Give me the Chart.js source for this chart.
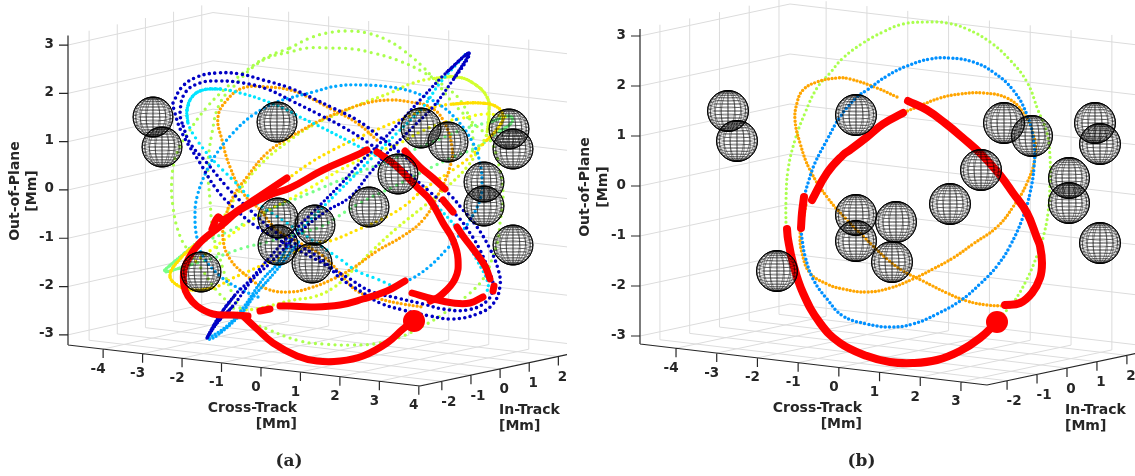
<!DOCTYPE html>
<html>
<head>
<meta charset="utf-8">
<title>Orbits</title>
<script src="https://cdn.jsdelivr.net/npm/chart.js@4"></script>
<style>
  html, body { margin: 0; padding: 0; background: #fff; }
  canvas { position: absolute; top: 0; }
</style>
</head>
<body>
<canvas id="panelA" width="567" height="476" style="left:0"></canvas>
<canvas id="panelB" width="568" height="476" style="left:567px"></canvas>
<script>
// tick labels of the three axes
const outOfPlaneTicks = [-3, -2, -1, 0, 1, 2, 3];
const inTrackTicks = [-2, -1, 0, 1, 2];
const crossTicksA = [-4, -3, -2, -1, 0, 1, 2, 3, 4];
const crossTicksB = [-4, -3, -2, -1, 0, 1, 2, 3];

// all orbits as [horizontal, vertical] in the view plane
// panel (a)
const aNavyOuter = [[-2.2,1.74],[-1.975,2.06],[-1.6,2.26],[-1.1,2.34],[-.525,2.32],[.05,2.2],[.725,2.04],[1.225,1.86],[1.8,1.64],[2.4,1.4],[2.975,1.06],[3.85,.5],[4.725,-.1],[5.05,-.4],[5.4,-.74],[5.725,-1.18],[5.925,-1.58],[5.975,-1.92],[5.8,-2.28],[5.4,-2.48],[4.8,-2.58],[4.225,-2.52],[3.55,-2.4],[2.975,-2.26],[2.475,-2.02],[1.975,-1.76],[1.65,-1.52],[.775,-1.14],[-.1,-.74],[-.7,-.34],[-1.1,0],[-1.525,.54],[-1.975,1.14],[-2.175,1.6],[-2.2,1.74]];
const aNavyInner = [[-1.975,1.34],[-2.025,1.54],[-1.9,1.94],[-1.525,2.14],[-1.025,2.18],[-.45,2.14],[.15,2.02],[.725,1.8],[1.475,1.5],[2.05,1.26],[2.65,.96],[3.35,.54],[4.225,-.04],[4.925,-.54],[5.225,-.86],[5.475,-1.2],[5.675,-1.58],[5.8,-1.92],[5.65,-2.22],[5.15,-2.4],[4.55,-2.38],[4.05,-2.28],[3.4,-2.16],[2.725,-2.02],[2.225,-1.78],[1.8,-1.58],[1.4,-1.32],[.4,-.86],[-.275,-.4],[-.85,.06],[-1.35,.54],[-1.775,.94],[-1.975,1.34]];
const aNavyThin = [[-1.35,-2.96],[-1.1,-2.66],[-.7,-2.32],[-.2,-1.78],[.15,-1.52],[.475,-1.26],[.975,-.84],[1.6,-.44],[2.225,-.14],[2.725,.34],[3.3,.86],[3.8,1.26],[4.3,1.66],[4.8,2.2],[5.15,2.6],[5.2,2.74],[4.65,2.36],[4.05,1.86],[3.475,1.36],[2.975,.94],[2.475,.54],[1.975,.1],[1.225,-.5],[.725,-.9],[.225,-1.34],[-.275,-1.8],[-.65,-2.1],[-1.025,-2.5],[-1.35,-2.96]];
const aCyanTop = [[-1.85,1.6],[-1.725,1.86],[-1.45,2],[-1.025,2.02],[-.525,1.94],[.05,1.8],[.65,1.6],[.975,1.46],[1.55,1.24],[2.225,.96],[2.975,.64],[3.85,.1],[4.725,-.6],[5.1,-1],[5.425,-1.44],[5.675,-1.86],[5.65,-2.04]];
const aCyanBack = [[-1.85,1.6],[-1.825,1.34],[-1.6,1],[-1.2,.6],[-.7,.2],[-.2,-.2],[.65,-.66],[1.975,-1.38],[2.4,-1.62],[2.9,-1.78],[3.4,-1.96]];
const aCyanThin = [[5.1,2.7],[4.475,2.14],[4.05,1.66],[3.4,1.14],[2.8,.66],[1.9,-.06],[1.225,-.6],[.725,-1]];
const aSkyThin = [[.725,-1.06],[.4,-1.48],[.05,-1.78],[-.45,-2.36],[-.85,-2.72],[-1.325,-2.98],[-1.15,-2.94],[-.525,-2.5],[-.15,-2.1],[.35,-1.64],[.975,-1]];
const aSky = [[-.075,-2.14],[-.525,-1.98],[-1.025,-1.72],[-1.45,-1.32],[-1.6,-.96],[-1.65,-.54],[-1.6,-.14],[-1.35,.4],[-1.1,.74],[-.7,1.14],[-.2,1.5],[.4,1.76],[.725,1.84],[1.3,1.96],[1.9,2.08],[2.55,2.1],[3.225,2.06],[3.8,1.96],[4.4,1.74],[4.9,1.4],[5.3,.94],[5.475,.54],[5.525,.14],[5.475,-.2],[5.225,-.6],[4.9,-.96],[4.65,-1.18],[4.225,-1.52],[3.8,-1.76],[3.55,-1.84]];
const aOrangeOpen = [[2.9,1],[2.4,1.34],[1.8,1.6],[1.225,1.84],[.725,2],[.15,2.06],[-.45,2.04],[-.85,1.8],[-1.075,1.46],[-.975,1],[-.775,.46],[-.45,-.06],[-.025,-.4],[.4,-.8],[.975,-1.06],[1.55,-1.32],[1.975,-1.66],[2.4,-2.02],[2.975,-2.18],[3.55,-2.28],[4.05,-2.34]];
const aOrangeLoop = [[.725,1.06],[.15,.74],[-.35,.26],[-.7,-.14],[-.9,-.6],[-.95,-.98],[-.775,-1.38],[-.35,-1.72],[.15,-1.98],[.725,-2.04],[1.225,-1.96],[1.8,-1.78],[2.3,-1.56],[2.9,-1.22],[3.55,-.92],[4.05,-.6],[4.4,-.14],[4.725,.46],[4.775,.86],[4.55,1.4],[4.225,1.66],[3.725,1.76],[3.225,1.8],[2.65,1.74],[1.975,1.56],[1.4,1.36],[.725,1.06]];
const aYellow = [[-1.6,-1.06],[-2.025,-1.38],[-2.275,-1.7],[-2.1,-1.9],[-1.7,-2],[-1.2,-1.96],[-.7,-1.76],[-.35,-1.64],[.15,-1.46],[.8,-1.26],[1.4,-1.06],[1.8,-1],[2.4,-.8],[2.975,-.6],[3.55,-.34],[4.05,0],[4.9,.46],[5.225,.66],[5.65,1],[5.925,1.24],[6.05,1.46],[5.9,1.66],[5.475,1.74],[4.8,1.72],[4.225,1.64],[3.65,1.46],[3.05,1.26],[2.475,1.06],[1.8,.8],[1.225,.54],[.725,.26],[-.025,-.14],[-.9,-.64],[-1.6,-1.06]];
const aYellowRow = [[6.1,1.46],[5.65,1.52],[5.05,1.44],[4.6,1.36],[3.975,1.16],[3.475,.94],[2.725,.7],[1.975,.4],[1.225,.04],[.725,-.18],[.1,-.44],[-.525,-.76],[-1.15,-1.14],[-1.65,-1.44]];
const aYellowGreen = [[-.9,-.5],[-.525,0],[-.025,.5],[.725,1],[1.4,1.34],[1.975,1.54],[2.55,1.74],[3.225,1.94],[3.8,2.14],[4.4,2.24],[4.9,2.26],[5.3,2.14],[5.65,1.86],[5.7,1.54],[5.65,1.14],[5.475,.86],[5.15,.46],[4.65,.06],[4.05,-.34],[3.4,-.76],[2.8,-1.2],[2.3,-1.6],[1.8,-1.96],[1.3,-2.14],[.8,-2.2],[.3,-2.3],[-.15,-2.38],[-.525,-2.4]];
const aLimeOuter = [[.725,2.84],[1.225,3.04],[1.65,3.14],[2.15,3.18],[2.65,3.14],[3.15,3],[3.55,2.8],[4.05,2.46],[4.4,2.14],[4.8,1.74],[5.275,1.36],[5.725,1],[5.975,.4],[6.05,-.14],[5.975,-.66],[5.925,-1],[5.8,-1.32],[5.6,-1.72],[5.225,-2.06],[4.475,-2.52],[4.05,-2.72],[3.55,-2.92],[2.975,-3.06],[2.3,-3.1],[1.55,-3.08],[.975,-3.02],[.15,-2.78],[-.45,-2.56],[-.775,-2.28],[-1.1,-2.02],[-1.45,-1.62],[-1.775,-1.26],[-2.025,-.92],[-2.2,-.34],[-2.225,.26],[-2.1,.74],[-1.775,1.2],[-1.35,1.66],[-.85,2.06],[-.35,2.4],[.15,2.66],[.725,2.84]];
const aLimeInner = [[-.525,-2.36],[-.7,-2.1],[-.9,-1.7],[-1.05,-1.3],[-1.2,-.86],[-1.275,-.2],[-1.325,.46],[-1.225,1.14],[-1.025,1.74],[-.6,2.14],[-.2,2.46],[.225,2.66],[.725,2.76],[1.15,2.84],[1.725,2.84],[2.3,2.82],[2.8,2.74],[3.4,2.6],[4.05,2.36],[4.65,2.04],[4.975,1.8],[5.225,1.4],[5.3,1],[5.275,.66]];
const aGreen = [[-2.4,-1.6],[-2.025,-1.34],[-1.6,-1.06],[-1.275,-.98],[-.85,-.84],[-.35,-.64],[.225,-.4],[.8,-.2],[1.225,-.06],[2.225,.28],[3.225,.6],[4.225,.94],[5.225,1.26],[5.725,1.36],[6.225,1.48],[6.275,1.36],[5.9,1.14],[5.4,.86],[4.8,.66],[4.225,.44],[3.35,.08],[2.475,-.26],[1.475,-.74],[1.05,-.84],[.15,-1.04],[-.45,-1.16],[-.95,-1.3],[-1.525,-1.44],[-2.025,-1.56],[-2.4,-1.64]];
// stretches near the turning points, where the dots crowd together
const aGreenTipLeft = [[-1.6,-1.06],[-2.025,-1.34],[-2.4,-1.6],[-2.4,-1.64],[-2.025,-1.56],[-1.7,-1.48]];
const aGreenTipRight = [[5.725,1.36],[6.225,1.48],[6.275,1.36],[5.9,1.14]];
const aYellowTipLeft = [[-1.6,-1.06],[-2.025,-1.38],[-2.275,-1.7],[-2.1,-1.9],[-1.7,-2],[-1.2,-1.96]];
const aYellowTipRight = [[4.8,1.72],[5.475,1.74],[5.9,1.66],[6.05,1.46],[5.925,1.24],[5.65,1]];
const aYellowGreenArc = [[4.4,2.24],[4.9,2.26],[5.3,2.14],[5.65,1.86],[5.7,1.54],[5.65,1.14]];
const aCyanTurn = [[-1.825,1.34],[-1.85,1.6],[-1.725,1.86],[-1.45,2],[-1.025,2.02]];
const aNavyTipTop = [[4.65,2.36],[5.2,2.74],[4.8,2.2]];
const aNavyTipBottom = [[-.65,-2.1],[-1.025,-2.5],[-1.35,-2.96],[-1.1,-2.66],[-.7,-2.32]];
const aRedBottom = [[3.825,-2.62],[3.55,-2.78],[3.15,-3.06],[2.55,-3.32],[1.975,-3.42],[1.4,-3.42],[.9,-3.32],[.3,-3.06],[-.1,-2.78],[-.45,-2.52]];
const aRedLeft = [[-.325,-2.52],[-.7,-2.5],[-1.2,-2.48],[-1.6,-2.32],[-1.825,-2.12],[-1.925,-1.92],[-1.925,-1.6],[-1.775,-1.32],[-1.6,-1.12],[-1.4,-.96],[-.975,-.7],[-.525,-.4],[.225,-.1],[.725,.04],[1.55,.4],[2.4,.7],[2.65,.8]];
const aRedNotch = [[-1.225,-.78],[-1.075,-.54],[-.95,-.6],[-.525,-.38],[-.025,-.12],[.65,.24]];
const aRedRight = [[2.9,.76],[3.35,.5],[3.725,.2],[3.925,.04],[4.225,-.2],[4.55,-.66],[4.8,-1],[4.925,-1.38],[4.85,-1.78],[4.475,-2.12],[4.225,-2.22]];
const aRedShort1 = [[3.6,.78],[3.975,.46],[4.3,.24],[4.6,.02]];
const aRedShort2 = [[4.55,-.2],[4.8,-.44]];
const aRedShort3 = [[4.9,-.74],[5.05,-.92],[5.3,-1.18],[5.6,-1.52],[5.725,-1.78]];
const aRedShort4 = [[5.825,-1.92],[5.8,-2.02]];
const aRedLow = [[5.55,-2.14],[5.225,-2.26],[4.8,-2.26],[4.3,-2.18],[3.775,-2.06]];
const aRedLong = [[3.6,-1.82],[3.15,-2.02],[2.55,-2.18],[1.975,-2.3],[1.3,-2.34],[.725,-2.32],[.475,-2.32]];
const aRedTail = [[.225,-2.38],[-.025,-2.42]];
const aEndPoint = [[3.825,-2.62]];
const aSpheres = [[-2.7,1.46],[-2.475,.86],[.4,1.36],[4,1.24],[4.675,.96],[6.2,1.22],[6.3,.82],[3.425,.32],[5.575,.16],[5.575,-.32],[2.7,-.34],[.425,-.56],[.425,-1.1],[1.35,-.7],[1.275,-1.46],[6.3,-1.1],[-1.5,-1.64]];

// panel (b)
const bLime = [[4.1,-2.56],[4.35,-2.34],[4.7,-1.86],[4.975,-1.34],[5.1,-1.04],[5.225,-.54],[5.275,.06],[5.275,.58],[5.2,1.06],[4.975,1.52],[4.7,2.08],[4.275,2.52],[3.775,2.88],[3.2,3.14],[2.7,3.26],[2.2,3.28],[1.6,3.24],[1.1,3.08],[.6,2.86],[.1,2.56],[-.225,2.26],[-.55,1.96],[-.85,1.46],[-1.1,.92],[-1.275,.32],[-1.325,-.28],[-1.325,-.82]];
const bSky = [[-.95,-.88],[-.925,-1.06],[-.85,-1.4],[-.65,-1.86],[-.3,-2.26],[.1,-2.6],[.7,-2.76],[1.275,-2.82],[1.85,-2.76],[2.45,-2.56],[3.025,-2.3],[3.525,-1.96],[3.95,-1.6],[4.275,-1.2],[4.6,-.62],[4.775,-.14],[4.875,.38],[4.875,.86],[4.7,1.42],[4.35,1.92],[3.85,2.28],[3.35,2.48],[2.775,2.56],[2.275,2.54],[1.7,2.4],[1.2,2.2],[.7,1.92],[.45,1.78],[.025,1.38],[-.3,.92],[-.6,.46],[-.775,.06],[-.875,-.22]];
const bOrangeLow = [[-.825,-.38],[-.925,-.78],[-.975,-1],[-.925,-1.34],[-.725,-1.74],[-.3,-1.96],[.1,-2.06],[.7,-2.12],[1.275,-2.04],[1.85,-1.86],[2.35,-1.66],[2.85,-1.44],[3.35,-1.16],[3.95,-.82],[4.35,-.42],[4.7,.06],[4.9,.58],[4.85,1.06],[4.6,1.48],[4.2,1.76],[3.6,1.86],[3.025,1.84],[2.525,1.76],[1.95,1.58],[1.65,1.48]];
const bOrangeTop = [[1.45,1.78],[.95,1.96],[.275,2.14],[-.05,2.16],[-.55,2.08],[-.9,1.92],[-1.05,1.66],[-1.1,1.32],[-.975,.86],[-.725,.32],[-.3,-.22],[.2,-.68],[.6,-1],[.85,-1.2],[1.2,-1.46],[1.6,-1.7],[2.1,-1.9],[2.7,-2.14],[3.2,-2.3],[3.7,-2.38],[4.15,-2.4]];
const bRedBottom = [[-1.3,-.86],[-1.275,-1.06],[-1.15,-1.54],[-.9,-2.14],[-.475,-2.74],[.025,-3.14],[.7,-3.4],[1.275,-3.52],[1.85,-3.54],[2.45,-3.48],[3.025,-3.3],[3.525,-3.04],[3.95,-2.72]];
const bRedRight = [[4.15,-2.38],[4.525,-2.34],[4.825,-2.14],[5.025,-1.84],[5.075,-1.54],[5.025,-1.2],[4.95,-1.04],[4.7,-.54],[4.35,-.14],[4.025,.22],[3.575,.62],[3.1,.96],[2.65,1.26],[2.2,1.52],[1.725,1.7]];
const bRedTop = [[1.6,1.46],[1.1,1.24],[.7,.98],[.275,.72],[.1,.62],[-.3,.26],[-.675,-.28]];
const bRedShort = [[-.875,-.22],[-.925,-.54],[-.95,-.84]];
const bEndPoint = [[3.95,-2.72]];
const bSpheres = [[-2.775,1.5],[-2.55,.9],[.425,1.42],[.425,-.58],[.425,-1.1],[4.125,1.26],[4.825,1],[6.4,1.26],[6.525,.84],[3.55,.32],[5.75,.16],[5.75,-.34],[2.775,-.36],[1.425,-.72],[6.525,-1.14],[-1.55,-1.7],[1.325,-1.52]];

const textColor = '#262626';
const gridColor = '#dcdcdc';
const pxU = 0.025, pxV = 0.02; // view units per pixel

function toXY(pts) { return pts.map(p => ({ x: p[0], y: p[1] })); }

function orbit(pts, color, width, gap) {
    return {
        data: toXY(pts), showLine: true, pointRadius: 0, borderColor: color, borderWidth: width,
        borderDash: gap ? [0, gap] : [], borderCapStyle: 'round', borderJoinStyle: 'round',
        tension: 0.42, order: gap ? 5 : 3
    };
}

// wireframe ball used as point style for the spheres
function wireBall(r) {
    const c = document.createElement('canvas');
    c.width = c.height = 2 * Math.ceil(r) + 4;
    const g = c.getContext('2d');
    const m = c.width / 2, el = 0.2, az = 0.16, rad = Math.PI / 180;
    const put = (lat, lon) => {
        const X = Math.cos(lat) * Math.cos(lon + az), Y = Math.cos(lat) * Math.sin(lon + az), Z = Math.sin(lat);
        return [m + r * X, m - r * (Z * Math.cos(el) - Y * Math.sin(el))];
    };
    g.strokeStyle = 'rgba(0,0,0,0.75)';
    g.lineWidth = 0.55;
    for (let k = -8; k <= 8; k++) {
        g.beginPath();
        for (let l = 0; l <= 360; l += 10) {
            const q = put(k * 10 * rad, l * rad);
            l ? g.lineTo(q[0], q[1]) : g.moveTo(q[0], q[1]);
        }
        g.stroke();
    }
    for (let l = 0; l < 360; l += 20) {
        g.beginPath();
        for (let k = -90; k <= 90; k += 10) {
            const q = put(k * rad, l * rad);
            k === -90 ? g.moveTo(q[0], q[1]) : g.lineTo(q[0], q[1]);
        }
        g.stroke();
    }
    g.lineWidth = 1;
    g.strokeStyle = '#000';
    g.beginPath();
    g.arc(m, m, r, 0, 2 * Math.PI);
    g.stroke();
    return c;
}

// box of the 3D axes: floor corners in view units, ranges of each axis
function makeProject(box) {
    return function (c, i, z) {
        const s = (c - box.cross[0]) / (box.cross[1] - box.cross[0]);
        const t = (i - box.inTrack[0]) / (box.inTrack[1] - box.inTrack[0]);
        const front = [box.A[0] + (box.B[0] - box.A[0]) * s, box.A[1] + (box.B[1] - box.A[1]) * s];
        const back = [box.D[0] + (box.C[0] - box.D[0]) * s, box.D[1] + (box.C[1] - box.D[1]) * s];
        return {
            x: front[0] + (back[0] - front[0]) * t,
            y: front[1] + (back[1] - front[1]) * t + (z - box.out[0]) * box.vPerZ
        };
    };
}

function boxDatasets(box, crossTicks) {
    const P = makeProject(box);
    const [c0, c1] = box.cross, [i0, i1] = box.inTrack, [z0, z1] = box.out;
    const grid = [], axes = [];
    const seg = (arr, a, b) => { arr.push(a, b, { x: null, y: null }); };
    crossTicks.forEach(c => {
        seg(grid, P(c, i0, z0), P(c, i1, z0));
        seg(grid, P(c, i1, z0), P(c, i1, z1));
    });
    inTrackTicks.forEach(i => {
        seg(grid, P(c0, i, z0), P(c1, i, z0));
        seg(grid, P(c0, i, z0), P(c0, i, z1));
    });
    outOfPlaneTicks.forEach(z => {
        seg(grid, P(c0, i0, z), P(c0, i1, z));
        seg(grid, P(c0, i1, z), P(c1, i1, z));
    });
    seg(axes, P(c0, i0, z0), P(c0, i0, z1));
    seg(axes, P(c0, i0, z0), P(c1, i0, z0));
    seg(axes, P(c1, i0, z0), P(c1, i1, z0));
    const tick = (p, dx, dy) => seg(axes, p, { x: p.x + dx * pxU, y: p.y + dy * pxV });
    outOfPlaneTicks.forEach(z => tick(P(c0, i0, z), -9, 0));
    crossTicks.forEach(c => tick(P(c, i0, z0), 0, -9));
    inTrackTicks.forEach(i => tick(P(c1, i, z0), 0, -9));
    return [
        { data: grid, showLine: true, pointRadius: 0, borderColor: gridColor, borderWidth: 1, order: 9 },
        { data: axes, showLine: true, pointRadius: 0, borderColor: textColor, borderWidth: 1.2, order: 8 }
    ];
}

const axisText = {
    id: 'axisText',
    afterDraw(chart, args, o) {
        const g = chart.ctx, P = makeProject(o.box), [c0, c1] = o.box.cross, [i0] = o.box.inTrack, z0 = o.box.out[0];
        const sx = chart.scales.x, sy = chart.scales.y;
        const at = p => [sx.getPixelForValue(p.x), sy.getPixelForValue(p.y)];
        g.save();
        g.fillStyle = textColor;
        g.textBaseline = 'middle';
        g.font = 'bold 13.5px "DejaVu Sans"';
        g.textAlign = 'right';
        outOfPlaneTicks.forEach(z => {
            const q = at(P(c0, i0, z));
            g.fillText(String(z), q[0] - 14, q[1] - 1);
        });
        g.textAlign = 'center';
        o.crossTicks.forEach(c => {
            const q = at(P(c, i0, z0));
            g.fillText(String(c), q[0] - 5, q[1] + 20);
        });
        inTrackTicks.forEach(i => {
            const q = at(P(c1, i, z0));
            g.fillText(String(i), q[0] + (i < 0 ? 7 : 4), q[1] + 21);
        });
        g.font = 'bold 14px "DejaVu Sans"';
        g.textAlign = 'right';
        g.fillText('Cross-Track', o.crossLabel[0], o.crossLabel[1]);
        g.fillText('[Mm]', o.crossLabel[0], o.crossLabel[1] + 16.5);
        g.textAlign = 'left';
        g.fillText('In-Track', o.inLabel[0], o.inLabel[1]);
        g.fillText('[Mm]', o.inLabel[0], o.inLabel[1] + 16.5);
        g.textAlign = 'center';
        g.save();
        g.translate(o.outLabel[0], o.outLabel[2]);
        g.rotate(-Math.PI / 2);
        g.fillText('Out-of-Plane', 0, 0);
        g.restore();
        g.save();
        g.translate(o.outLabel[1], o.outLabel[2]);
        g.rotate(-Math.PI / 2);
        g.fillText('[Mm]', 0, 0);
        g.restore();
        g.font = 'bold 17px "DejaVu Serif"';
        g.fillText(o.caption, o.captionAt[0], o.captionAt[1]);
        g.restore();
    }
};

function drawPanel(id, datasets, range, text) {
    return new Chart(document.getElementById(id), {
        type: 'scatter',
        data: { datasets: datasets },
        plugins: [axisText],
        options: {
            responsive: false,
            animation: false,
            events: [],
            layout: { padding: 0, autoPadding: false },
            scales: {
                x: { type: 'linear', display: false, min: range[0], max: range[1] },
                y: { type: 'linear', display: false, min: range[2], max: range[3] }
            },
            plugins: { legend: { display: false }, tooltip: { enabled: false }, axisText: text }
        }
    });
}

const navy = '#0000c4', cyan = '#00e4ff', sky = '#00a8ff', skyB = '#0090ff', orange = '#ffa500',
    yellow = '#ffe000', yellowRow = '#f2ff10', yellowGreen = '#d2ff30', lime = '#aaff4d', green = '#78ff88', red = '#ff0000';

const boxA = { A: [-4.825, -3.1], B: [3.975, -3.92], C: [7.725, -3.28], D: [-1.2, -2.45], cross: [-4.89, 4.03], inTrack: [-2.75, 2.4], out: [-3.21, 3.2], vPerZ: 0.966 };
const boxB = { A: [-4.975, -3.16], B: [3.7, -3.98], C: [7.475, -3.34], D: [-1.225, -2.52], cross: [-4.885, 3.64], inTrack: [-2.67, 2.37], out: [-3.16, 3.14], vPerZ: 1 };

const ballA = wireBall(20), ballB = wireBall(20.5);

function balls(pts, img) {
    return { data: toXY(pts), pointStyle: img, pointRadius: 10, showLine: false, order: 1 };
}
function endDot(pts, r) {
    return { data: toXY(pts), pointStyle: 'circle', pointRadius: r, pointBackgroundColor: red, pointBorderWidth: 0, showLine: false, order: 2 };
}

drawPanel('panelA', [
    balls(aSpheres, ballA),
    endDot(aEndPoint, 11),
    ...[aRedBottom, aRedLeft, aRedNotch, aRedRight, aRedShort1, aRedShort2, aRedShort3, aRedShort4, aRedLow, aRedLong, aRedTail].map(p => orbit(p, red, 7)),
    orbit(aNavyOuter, navy, 3.6, 5.5),
    orbit(aNavyInner, navy, 3.6, 5.5),
    orbit(aNavyThin, navy, 3.4, 4.5),
    orbit(aNavyTipTop, navy, 3.4, 2.5),
    orbit(aNavyTipBottom, navy, 3.4, 2.5),
    orbit(aCyanTop, cyan, 3.4, 5),
    orbit(aCyanTurn, cyan, 3.4, 2.5),
    orbit(aCyanBack, cyan, 3.4, 6),
    orbit(aCyanThin, cyan, 3.4, 5),
    orbit(aSkyThin, sky, 3.4, 3.5),
    orbit(aSky, sky, 3.4, 5),
    orbit(aOrangeOpen, orange, 3.4, 4),
    orbit(aOrangeLoop, orange, 3.4, 4),
    orbit(aYellow, yellow, 3.4, 5.5),
    orbit(aYellowTipLeft, yellow, 3.4, 2.5),
    orbit(aYellowTipRight, yellow, 3.4, 2.5),
    orbit(aYellowRow, yellowRow, 3.4, 6),
    orbit(aYellowGreen, yellowGreen, 3.4, 5.5),
    orbit(aYellowGreenArc, yellowGreen, 3.4, 2.5),
    orbit(aGreen, green, 3.4, 6.5),
    orbit(aGreenTipLeft, green, 3.4, 2.5),
    orbit(aGreenTipRight, green, 3.4, 2.5),
    orbit(aLimeOuter, lime, 3.3, 6.5),
    orbit(aLimeInner, lime, 3.3, 6.5),
    ...boxDatasets(boxA, crossTicksA)
], [-6.525, 7.65, -5.72, 3.8], {
    box: boxA, crossTicks: crossTicksA, crossLabel: [297, 408], inLabel: [499, 410], outLabel: [15, 32, 191], caption: '(a)', captionAt: [289, 462]
});

drawPanel('panelB', [
    balls(bSpheres, ballB),
    endDot(bEndPoint, 11),
    ...[bRedBottom, bRedRight, bRedTop, bRedShort].map(p => orbit(p, red, 8)),
    orbit(bSky, skyB, 3.5, 4.2),
    orbit(bOrangeLow, orange, 3.4, 3.6),
    orbit(bOrangeTop, orange, 3.4, 3.6),
    orbit(bLime, lime, 3.2, 4.8),
    ...boxDatasets(boxB, crossTicksB)
], [-6.8, 7.4, -5.8, 3.72], {
    box: boxB, crossTicks: crossTicksB, crossLabel: [295, 408], inLabel: [498, 410], outLabel: [18, 36, 187], caption: '(b)', captionAt: [294.5, 462]
});
</script>
</body>
</html>
